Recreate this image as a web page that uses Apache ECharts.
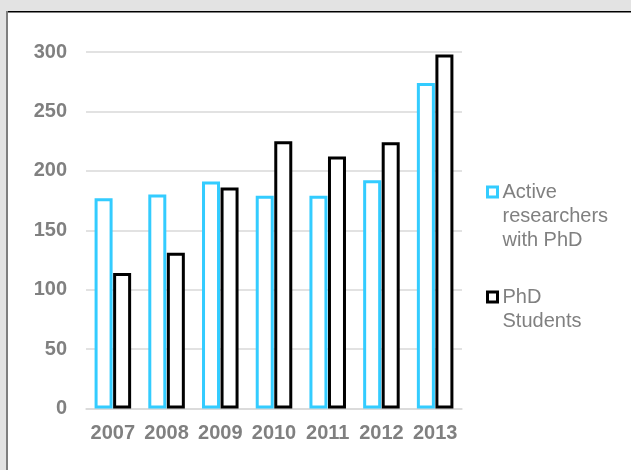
<!DOCTYPE html>
<html>
<head>
<meta charset="utf-8">
<script src="https://cdn.jsdelivr.net/npm/echarts@6/dist/echarts.min.js"></script>
<style>html,body{margin:0;padding:0;background:#fff}#c{width:631px;height:470px}</style>
</head>
<body>
<div id="c"></div>
<script>
var years = ['2007', '2008', '2009', '2010', '2011', '2012', '2013'];
var activeResearchers = [177, 180, 191, 179, 179, 192, 274];
var phdStudents = [114, 131, 186, 225, 212, 224, 298];
var seriesNames = ['Active researchers with PhD', 'PhD Students'];
var legendLabels = ['Active\nresearchers\nwith PhD', 'PhD\nStudents'];
var yTicks = [0, 50, 100, 150, 200, 250, 300];

var blue = '#33CCFF';
var black = '#000000';
var gray = '#808080';
var font = 'Liberation Sans, Arial, sans-serif';

// prepend blank lines so the icon lines up with the first text line
function topAligned(label) {
  var n = label.split('\n').length;
  var pad = '';
  for (var i = 1; i < n; i++) pad += ' \n';
  return pad + label;
}

var chart = echarts.init(document.getElementById('c'));
chart.setOption({
  backgroundColor: '#ffffff',
  animation: false,
  graphic: [
    { type: 'rect', shape: { x: 0, y: 0, width: 631, height: 11 }, style: { fill: '#e3e3e3' }, silent: true },
    { type: 'rect', shape: { x: 0, y: 0, width: 6, height: 470 }, style: { fill: '#e3e3e3' }, silent: true },
    { type: 'rect', shape: { x: 6, y: 11, width: 625, height: 1.5 }, style: { fill: '#000' }, silent: true },
    { type: 'rect', shape: { x: 6, y: 11, width: 2, height: 459 }, style: { fill: '#7f7f7f' }, silent: true }
  ],
  grid: { left: 86, right: 169, top: 52, bottom: 61.5, containLabel: false },
  legend: [
    {
      data: [{ name: seriesNames[0], itemStyle: { color: '#fff', borderColor: blue, borderWidth: 3 } }],
      orient: 'vertical', left: 486, top: 132, padding: 0,
      itemWidth: 10, itemHeight: 10, icon: 'rect', selectedMode: false,
      formatter: function () { return topAligned(legendLabels[0]); },
      textStyle: { color: gray, fontFamily: font, fontSize: 20, lineHeight: 24 }
    },
    {
      data: [{ name: seriesNames[1], itemStyle: { color: '#fff', borderColor: black, borderWidth: 3 } }],
      orient: 'vertical', left: 486, top: 261, padding: 0,
      itemWidth: 10, itemHeight: 10, icon: 'rect', selectedMode: false,
      formatter: function () { return topAligned(legendLabels[1]); },
      textStyle: { color: gray, fontFamily: font, fontSize: 20, lineHeight: 24 }
    }
  ],
  xAxis: {
    type: 'category',
    data: years,
    axisLine: { show: true, lineStyle: { color: '#d9d9d9', width: 1.5 } },
    axisTick: { show: false },
    axisLabel: { color: gray, fontFamily: font, fontSize: 20, fontWeight: 'bold', margin: 15, interval: 0 }
  },
  yAxis: {
    type: 'value',
    min: yTicks[0], max: yTicks[yTicks.length - 1], interval: 50,
    axisLine: { show: false },
    axisTick: { show: false },
    splitLine: { lineStyle: { color: '#d9d9d9', width: 1.5 } },
    axisLabel: { color: gray, fontFamily: font, fontSize: 20, fontWeight: 'bold', margin: 19 }
  },
  series: [
    {
      name: seriesNames[0], type: 'bar', data: activeResearchers,
      barWidth: 18, barGap: '3%',
      itemStyle: { color: '#ffffff', borderColor: blue, borderWidth: 3 }
    },
    {
      name: seriesNames[1], type: 'bar', data: phdStudents,
      barWidth: 18, barGap: '3%',
      itemStyle: { color: '#ffffff', borderColor: black, borderWidth: 3 }
    }
  ]
});
</script>
</body>
</html>
